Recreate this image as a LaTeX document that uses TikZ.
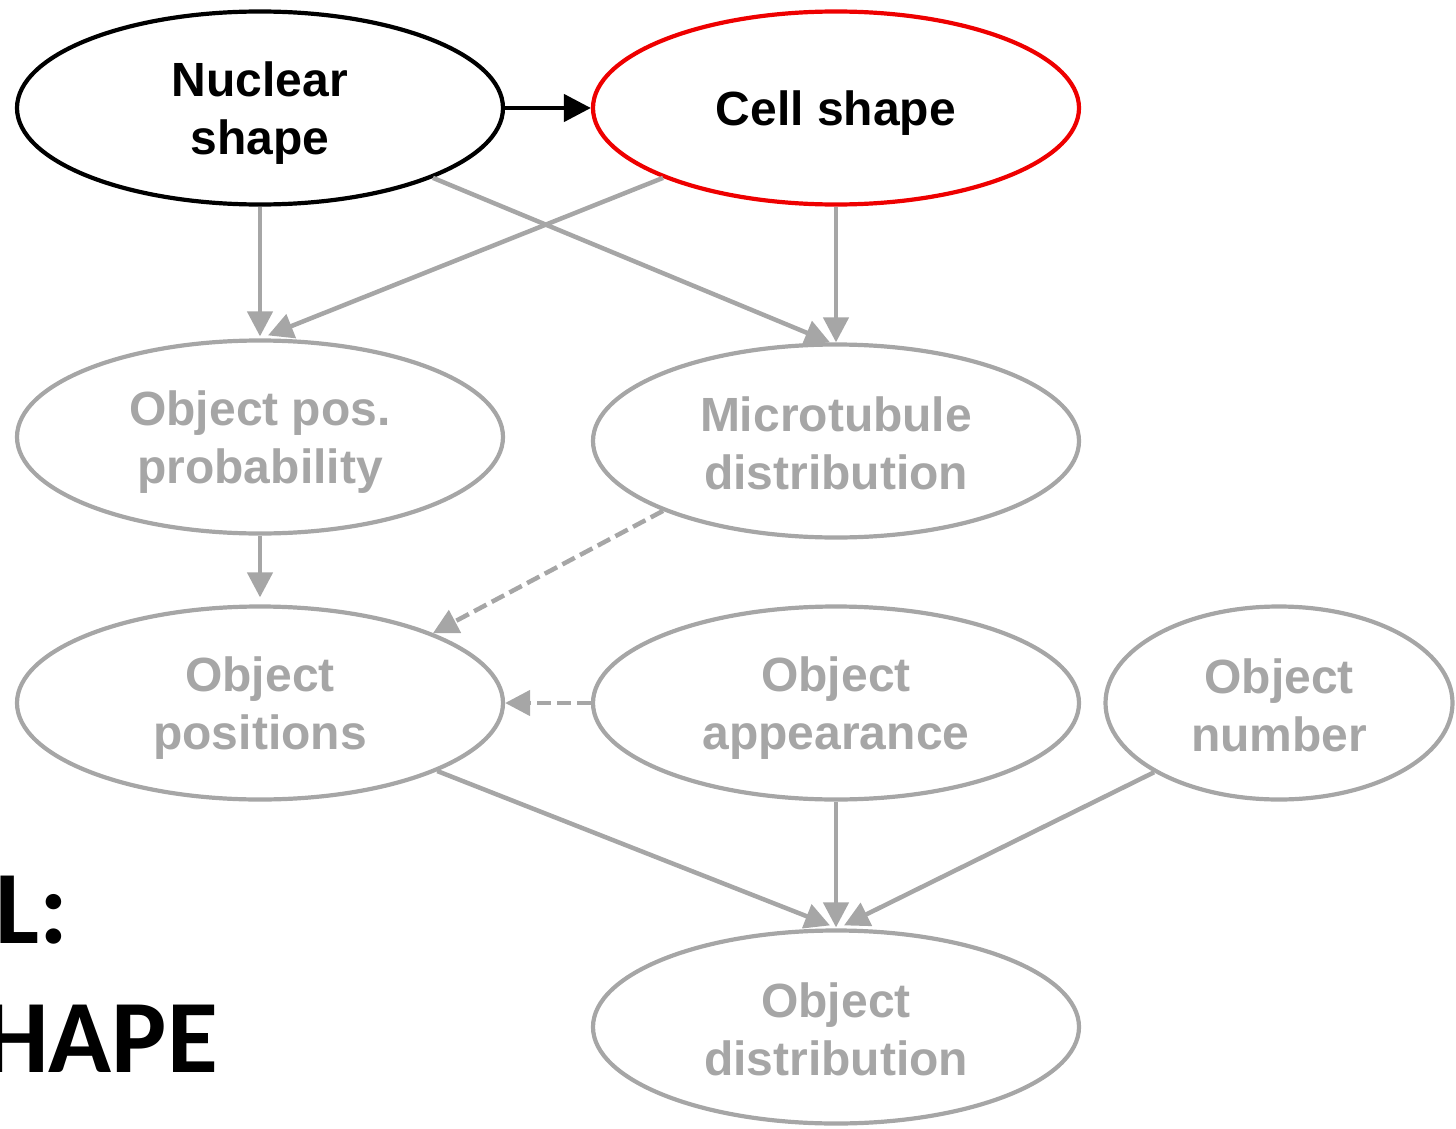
\documentclass[tikz,border=0pt]{standalone}
\usepackage{fontspec}
\setmainfont{Liberation Sans}
\newfontfamily\calib{Carlito}
\usetikzlibrary{shapes.geometric,arrows.meta,calc}
\definecolor{lgray}{RGB}{166,166,166}
\definecolor{pred}{RGB}{238,0,0}
\newcommand{\lnstrut}{\rule[-6pt]{0pt}{51pt}}
\begin{document}
\begin{tikzpicture}[x=1pt,y=-1pt,
  ell/.style={ellipse,draw=lgray,line width=4.2pt,minimum width=486pt,minimum height=193pt,inner sep=0pt,
    align=center,text=lgray,font=\fontsize{48}{57.6}\selectfont\bfseries},
  conn/.style={draw=lgray,line width=4.5pt,-{Triangle[length=25pt,width=25pt]}},
  dconn/.style={conn,dash pattern=on 14pt off 6pt},
]
\useasboundingbox (0,0) rectangle (1456,1129);
\clip (0,0) rectangle (1456,1129);
\node[ell,draw=black,text=black] (nuc) at (260,108) {\lnstrut Nuclear\\\lnstrut shape};
\node[ell,draw=pred,text=black] (cell) at (836,108) {\lnstrut Cell shape};
\node[ell] (opp) at (260,437) {\lnstrut Object pos.\\\lnstrut probability};
\node[ell] (mt) at (836,441) {\lnstrut Microtubule\\\lnstrut distribution};
\node[ell] (opos) at (260,703) {\lnstrut Object\\\lnstrut positions};
\node[ell] (oapp) at (836,703) {\lnstrut Object\\\lnstrut appearance};
\node[ell,minimum width=347pt] (onum) at (1279,703) {\lnstrut Object\\\lnstrut number};
\node[ell] (odist) at (836,1027) {\lnstrut Object\\\lnstrut distribution};

\node[font=\calib\fontsize{104}{110}\selectfont\bfseries,anchor=base east,inner sep=0pt] (t1) at (68,943) {L:};
\node[font=\calib\fontsize{104}{110}\selectfont\bfseries,anchor=base east,inner sep=0pt] (t2) at (218,1072) {HAPE};

\draw[line width=4.5pt,-{Triangle[length=27pt,width=27pt]}] (nuc.east) -- (cell.west);
\draw[conn] (nuc.south) -- ([yshift=2pt]opp.north);
\draw[conn] (cell.202) -- ([xshift=8pt,yshift=3pt]opp.north);
\draw[conn] (nuc.338) -- ([xshift=-6pt]mt.north);
\draw[conn] (cell.south) -- (mt.north);
\draw[conn] (opp.south) -- ([yshift=7pt]opos.north);
\draw[dconn] (mt.202) -- (opos.22);
\draw[dconn] (oapp.west) -- (opos.east);
\draw[conn] (opos.-21.6) -- ([xshift=-6pt,yshift=3pt]odist.north);
\draw[conn] (oapp.south) -- ([yshift=1pt]odist.north);
\draw[conn] (onum.209.6) -- ([xshift=8pt,yshift=3pt]odist.north);
\end{tikzpicture}
\end{document}
